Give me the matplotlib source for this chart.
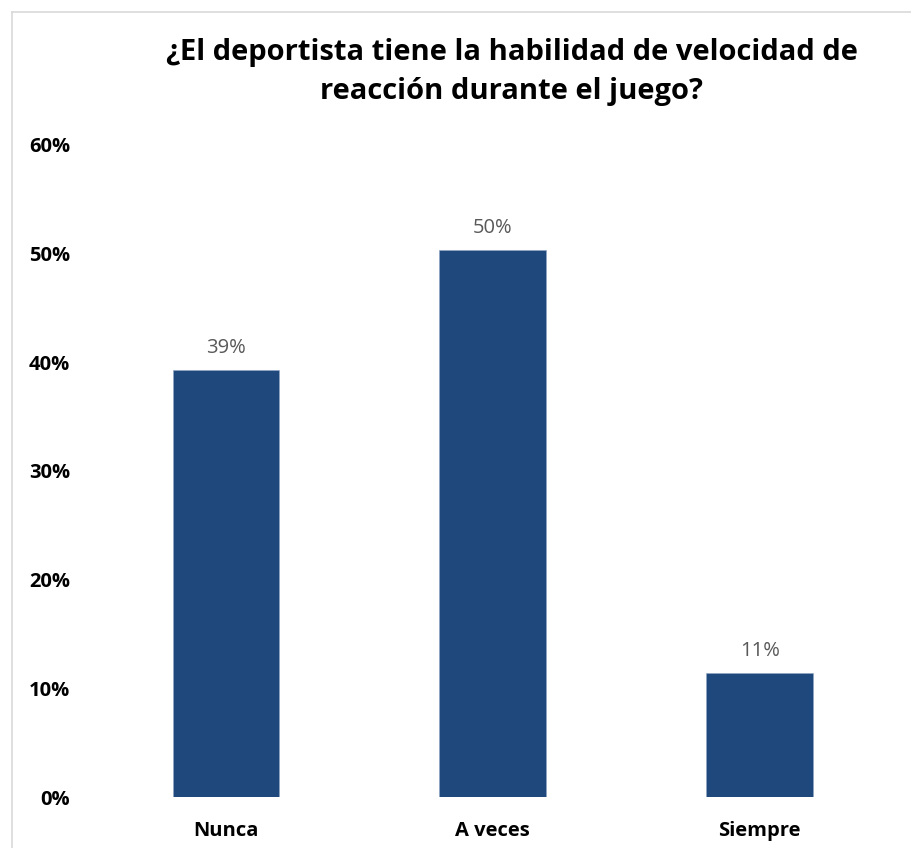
import matplotlib
matplotlib.use("Agg")
import matplotlib.pyplot as plt
from matplotlib.lines import Line2D
import numpy as np

# Survey answers and their share of responses
categories = ["Nunca", "A veces", "Siempre"]
shares = [0.393, 0.503, 0.114]
y_ticks = [0.0, 0.1, 0.2, 0.3, 0.4, 0.5, 0.6]

BAR_COLOR = "#1F497D"
LABEL_GRAY = "#595959"

plt.rcParams["font.family"] = ["Open Sans", "DejaVu Sans"]

fig = plt.figure(figsize=(9.12, 8.48), dpi=100)
ax = fig.add_axes([0.1014, 0.0601, 0.878, 0.769])

x = np.arange(len(categories))
bars = ax.bar(x, shares, width=0.40, color=BAR_COLOR, edgecolor="#8FA6C4", linewidth=0.4)

for bar, val in zip(bars, shares):
    ax.text(bar.get_x() + bar.get_width() / 2, val + 0.011, f"{val * 100:.0f}%",
            ha="center", va="bottom", fontsize=14.5, color=LABEL_GRAY)

ax.set_xlim(-0.5, 2.5)
ax.set_ylim(0, 0.6)
ax.set_yticks(y_ticks)
ax.set_yticklabels([f"{t * 100:.0f}%" for t in y_ticks], fontsize=14.5, fontweight="bold")
ax.set_xticks(x)
ax.set_xticklabels(categories, fontsize=14.5, fontweight="bold")
ax.tick_params(axis="y", length=0, pad=16)
ax.tick_params(axis="x", length=0, pad=17)
for s in ax.spines.values():
    s.set_visible(False)

fig.text(0.561, 0.915, "¿El deportista tiene la habilidad de velocidad de\nreacción durante el juego?",
         ha="center", va="center", fontsize=21, fontweight="bold", linespacing=1.45)

# light chart-area frame along the top and left edges
fig.add_artist(Line2D([12 / 912, 12 / 912], [0, 1 - 12 / 848], transform=fig.transFigure,
                      color="#D9D9D9", lw=1.2))
fig.add_artist(Line2D([12 / 912, 1], [1 - 12 / 848, 1 - 12 / 848], transform=fig.transFigure,
                      color="#D9D9D9", lw=1.2))

fig.savefig("out.png", dpi=100, facecolor="white")
